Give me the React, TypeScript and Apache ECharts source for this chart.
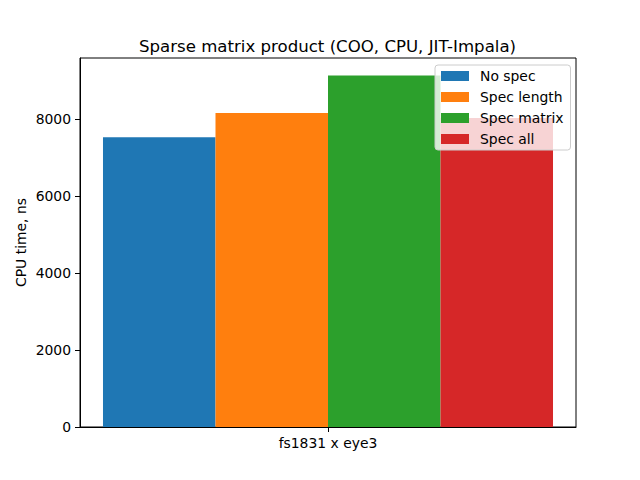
import React, { useEffect, useRef } from "react";
import * as echarts from "echarts";

const categories = ["fs1831 x eye3"];
const seriesNames = ["No spec", "Spec length", "Spec matrix", "Spec all"];
const noSpec = [7530];
const specLength = [8160];
const specMatrix = [9130];
const specAll = [8030];
const colors = ["#1f77b4", "#ff7f0e", "#2ca02c", "#d62728"];
const yTicks = [0, 2000, 4000, 6000, 8000];

export default function App() {
  const ref = useRef<HTMLDivElement>(null);
  useEffect(() => {
    if (!ref.current) return;
    const chart = echarts.init(ref.current, null, { renderer: "svg" });
    const values = [noSpec, specLength, specMatrix, specAll];
    const maxVal = Math.max(...values.flat()) * 1.05;
    const font = "DejaVu Sans";
    chart.setOption({
      animation: false,
      backgroundColor: "#ffffff",
      title: {
        text: "Sparse matrix product (COO, CPU, JIT-Impala)",
        left: 134,
        top: 33,
        textStyle: { fontFamily: font, fontSize: 16.6, fontWeight: "normal", color: "#000" },
      },
      grid: {
        left: 80,
        right: 64,
        top: 58,
        bottom: 53,
        show: true,
        borderColor: "#000",
        borderWidth: 1,
        backgroundColor: "transparent",
      },
      legend: {
        orient: "vertical",
        left: 435,
        top: 65,
        padding: [4, 7, 4, 6],
        itemGap: 7,
        itemWidth: 28,
        itemHeight: 10,
        backgroundColor: "rgba(255,255,255,0.8)",
        borderColor: "#cccccc",
        borderWidth: 1,
        borderRadius: 3,
        z: 10,
        textStyle: { fontFamily: font, fontSize: 13.9, color: "#000", padding: [0, 0, 0, 6] },
        icon: "rect",
        data: seriesNames,
      },
      xAxis: {
        type: "category",
        data: categories,
        boundaryGap: true,
        axisLine: { show: true, lineStyle: { color: "#000", width: 1 } },
        axisTick: { show: true, alignWithLabel: true, length: 5, lineStyle: { color: "#000" } },
        axisLabel: { fontFamily: font, fontSize: 13.9, color: "#000", margin: 9 },
        splitLine: { show: false },
      },
      yAxis: {
        type: "value",
        min: 0,
        max: maxVal,
        interval: 2000,
        name: "CPU time, ns",
        nameLocation: "middle",
        nameGap: 52,
        nameMoveOverlap: false,
        nameTextStyle: { fontFamily: font, fontSize: 13.9, color: "#000" },
        axisLine: { show: true, lineStyle: { color: "#000", width: 1 } },
        axisTick: { show: true, length: 5, lineStyle: { color: "#000" } },
        axisLabel: {
          fontFamily: font,
          fontSize: 13.9,
          color: "#000",
          margin: 9,
          showMaxLabel: false,
          formatter: (v: number) => (yTicks.includes(v) ? String(v) : ""),
        },
        splitLine: { show: false },
      },
      series: values.map((d, i) => ({
        name: seriesNames[i],
        type: "bar",
        data: d,
        barGap: "0%",
        barCategoryGap: "9.27%",
        itemStyle: { color: colors[i] },
      })),
    });
    return () => chart.dispose();
  }, []);
  return (
    <div
      ref={ref}
      style={{ position: "absolute", left: 0, top: 0, width: 640, height: 480 }}
    />
  );
}
